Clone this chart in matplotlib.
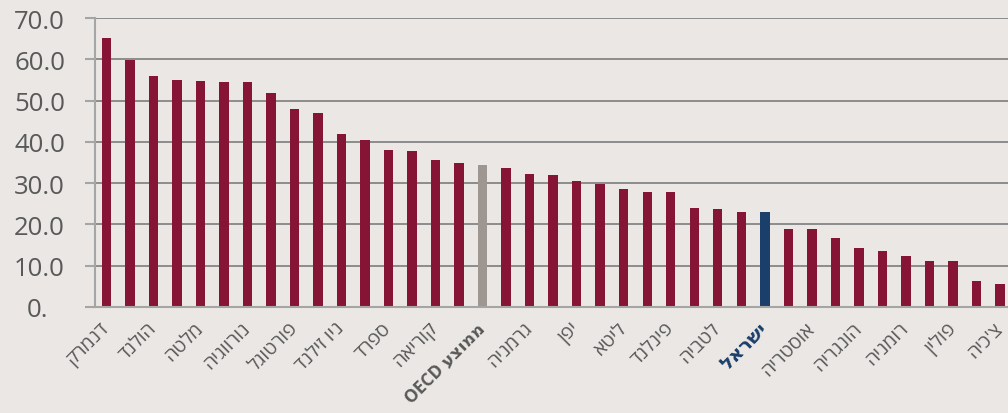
"""Bar chart: Israel vs OECD countries (recreated)."""
import matplotlib
matplotlib.use("Agg")
import matplotlib.pyplot as plt
import matplotlib.transforms as mtransforms

# Country names (logical Hebrew order, right-to-left)
countries = [
    "דנמרק", "", "הולנד", "", "מלטה", "", "נורווגיה", "", "פורטוגל", "",
    "ניו זילנד", "", "ספרד", "", "קוריאה", "", "ממוצע OECD", "", "גרמניה", "",
    "יפן", "", "ליטא", "", "פינלנד", "", "לטביה", "", "ישראל", "",
    "אוסטריה", "", "הונגריה", "", "רומניה", "", "פולין", "", "צ'כיה",
]
values = [
    65.1, 59.8, 55.9, 55.1, 54.7, 54.6, 54.6, 51.9, 47.9, 46.9,
    41.8, 40.4, 38.1, 37.9, 35.7, 34.9, 34.3, 33.6, 32.3, 31.9,
    30.4, 29.9, 28.7, 27.8, 27.8, 24.1, 23.8, 23.1, 22.9, 19.0,
    19.0, 16.8, 14.4, 13.6, 12.3, 11.1, 11.1, 6.4, 5.6,
]
oecd_idx = 16
israel_idx = 28

yticks = [0, 10, 20, 30, 40, 50, 60, 70]

RED = "#861535"
GREY = "#9e9690"
BLUE = "#1b3f6b"
BG = "#eae7e4"
TXT = "#595959"


def visual(s: str) -> str:
    """matplotlib has no bidi support: flip the Hebrew text for display."""
    if "OECD" in s:
        heb = s.replace("OECD", "").strip()
        return "OECD " + heb[::-1]
    return s[::-1]


fig = plt.figure(figsize=(10.08, 4.14), dpi=100, facecolor=BG)
ax = fig.add_axes([95 / 1008, 1 - 308 / 414, 1 - 95 / 1008, (308 - 19) / 414])
ax.set_facecolor(BG)

colors = [RED] * len(values)
colors[oecd_idx] = GREY
colors[israel_idx] = BLUE
x = list(range(len(values)))
ax.bar(x, values, width=0.4, color=colors, zorder=3)

ax.set_xlim(-0.48, len(values) - 1 + 0.34)
ax.set_ylim(0, 70)

ax.set_yticks(yticks)
ax.set_yticklabels(["0." if t == 0 else f"{t:.1f}" for t in yticks],
                   fontsize=18.5, color=TXT, family=["Open Sans", "DejaVu Sans"])
ax.tick_params(axis="y", length=7.2, width=1.5, color="#a5a5a5", pad=14.4)
ax.grid(axis="y", color="#858585", lw=1.3, zorder=1)

# "0." label sits further left in the original
zero_lbl = ax.get_yticklabels()[0]
zero_lbl.set_transform(zero_lbl.get_transform()
                       + mtransforms.ScaledTranslation(-17 / 100, 0, fig.dpi_scale_trans))

ax.set_xticks(x)
ax.set_xticklabels([visual(c) for c in countries], rotation=45, ha="right",
                   va="center", rotation_mode="anchor", fontsize=14, color=TXT,
                   family=["Open Sans", "DejaVu Sans"])
ax.tick_params(axis="x", length=0, pad=13)
for i, lbl in enumerate(ax.get_xticklabels()):
    if i == oecd_idx:
        lbl.set_fontweight("bold")
        lbl.set_fontsize(12.5)
    elif i == israel_idx:
        lbl.set_fontweight("bold")
        lbl.set_color(BLUE)

for side in ("top", "right"):
    ax.spines[side].set_visible(False)
ax.spines["left"].set_color("#a5a5a5")
ax.spines["left"].set_linewidth(1.5)
ax.spines["bottom"].set_color("#a5a5a5")
ax.spines["bottom"].set_linewidth(1.5)
ax.spines["bottom"].set_zorder(4)

fig.savefig("out.png", dpi=100, facecolor=BG)
